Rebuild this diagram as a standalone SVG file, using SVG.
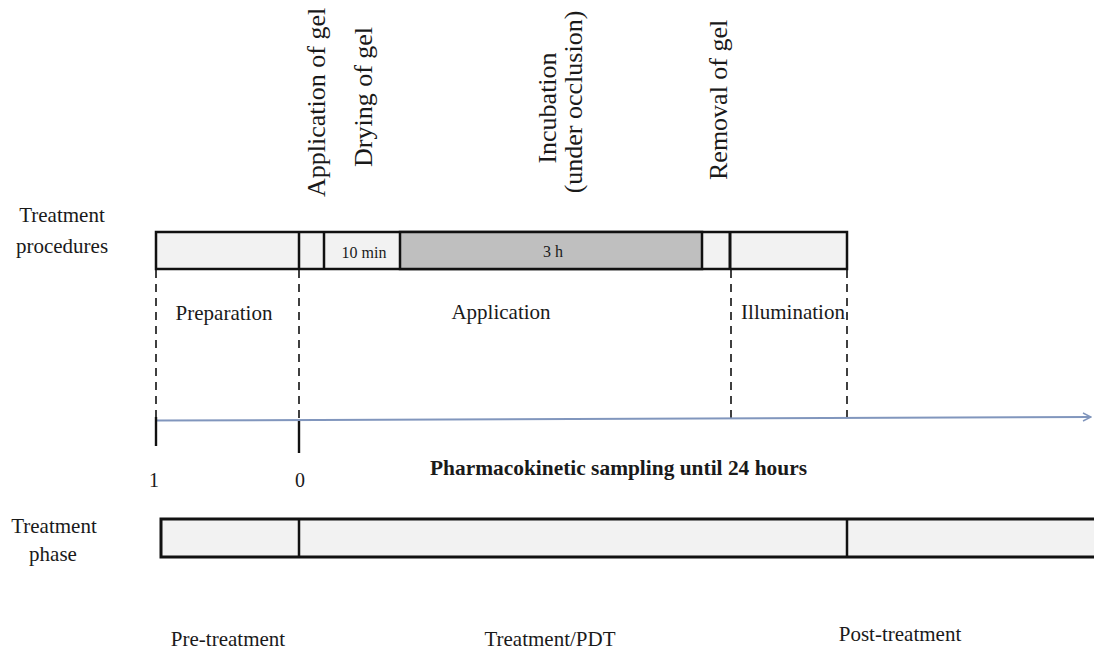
<svg xmlns="http://www.w3.org/2000/svg" width="1094" height="651" viewBox="0 0 1094 651">
<defs>
<style>
text{font-family:"Liberation Serif","Times New Roman",serif;fill:#1a1a1a;font-size:21px}
.rot{font-size:26px}
.small{font-size:16px}
.bold{font-weight:bold}
.bar{stroke:#111;stroke-width:2.5}
.light{fill:#f2f2f2}
.dark{fill:#bfbfbf}
.dash{stroke:#111;stroke-width:1.6;stroke-dasharray:8 6;fill:none}
.tick{stroke:#111;stroke-width:2.4}
.axis{stroke:#8196bd;stroke-width:2;fill:none}
</style>
<marker id="arr" markerWidth="10" markerHeight="10" refX="9" refY="5" orient="auto" markerUnits="userSpaceOnUse">
<path d="M1,1 L9,5 L1,9" fill="none" stroke="#8196bd" stroke-width="1.5"/>
</marker>
</defs>
<rect width="1094" height="651" fill="#fff"/>

<g id="labels-left">
<text x="62" y="222" text-anchor="middle">Treatment</text>
<text x="62" y="253" text-anchor="middle">procedures</text>
<text x="54" y="533" text-anchor="middle">Treatment</text>
<text x="53" y="561" text-anchor="middle">phase</text>
</g>

<g id="step-labels">
<text class="rot" transform="translate(325,197) rotate(-90)">Application of gel</text>
<text class="rot" transform="translate(372,167) rotate(-90)">Drying of gel</text>
<text class="rot" transform="translate(556,108) rotate(-90)" text-anchor="middle">Incubation</text>
<text class="rot" transform="translate(582,102) rotate(-90)" text-anchor="middle">(under occlusion)</text>
<text class="rot" transform="translate(727,180) rotate(-90)">Removal of gel</text>
</g>

<g id="procedures-bar">
<rect class="bar light" x="156" y="232" width="691" height="37"/>
<rect class="bar dark" x="400" y="232" width="302" height="37"/>
<line class="bar" x1="299" y1="232" x2="299" y2="269"/>
<line class="bar" x1="324" y1="232" x2="324" y2="269"/>
<line class="bar" x1="730" y1="232" x2="730" y2="269" style="stroke-width:3"/>
<text class="small" x="364" y="258" text-anchor="middle">10 min</text>
<text class="small" x="553" y="257" text-anchor="middle">3 h</text>
</g>

<g id="connectors">
<line class="dash" x1="156" y1="270" x2="156" y2="420"/>
<line class="dash" x1="299" y1="270" x2="299" y2="420"/>
<line class="dash" x1="731" y1="270" x2="731" y2="418"/>
<line class="dash" x1="847" y1="270" x2="847" y2="418"/>
<line class="axis" x1="156" y1="420.5" x2="1091" y2="417" marker-end="url(#arr)"/>
<line class="tick" x1="156" y1="417" x2="156" y2="446"/>
<line class="tick" x1="299" y1="421" x2="299" y2="453"/>
</g>

<g id="stage-labels">
<text x="224" y="320" text-anchor="middle">Preparation</text>
<text x="501" y="319" text-anchor="middle">Application</text>
<text x="793" y="319" text-anchor="middle">Illumination</text>
</g>

<g id="axis-labels">
<text x="154" y="487" text-anchor="middle" style="font-size:20px">1</text>
<text x="300" y="487" text-anchor="middle" style="font-size:20px">0</text>
<text class="bold" x="430" y="475" textLength="377" lengthAdjust="spacingAndGlyphs">Pharmacokinetic sampling until 24 hours</text>
</g>

<g id="phase-bar">
<rect class="light" x="161" y="519" width="940" height="38" stroke="#111" stroke-width="3"/>
<line class="bar" x1="299" y1="519" x2="299" y2="557"/>
<line class="bar" x1="847" y1="519" x2="847" y2="557"/>
</g>

<g id="phase-labels">
<text x="228" y="646" text-anchor="middle">Pre-treatment</text>
<text x="550" y="646" text-anchor="middle">Treatment/PDT</text>
<text x="900" y="641" text-anchor="middle">Post-treatment</text>
</g>
</svg>
